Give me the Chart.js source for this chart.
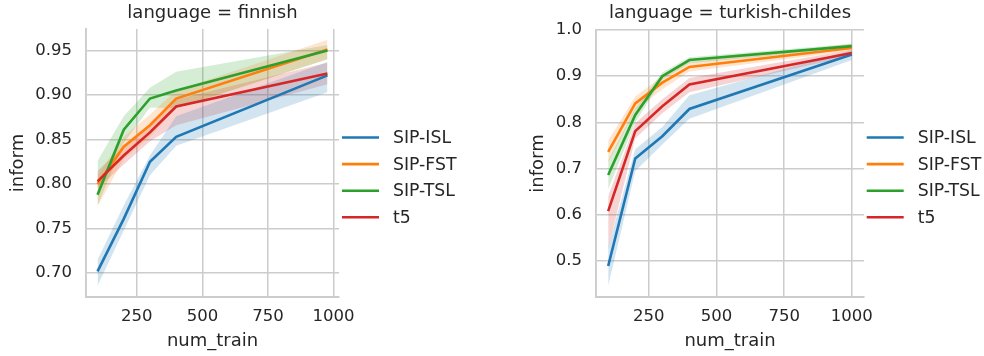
<!DOCTYPE html>
<html>
<head>
<meta charset="utf-8">
<script src="https://cdn.jsdelivr.net/npm/chart.js@4.4.1/dist/chart.umd.min.js"></script>
<style>
  body { margin: 0; background: #fff; }
  canvas { position: absolute; top: 0; }
</style>
</head>
<body>
<canvas id="finnishChart" width="492" height="356" style="left:0px"></canvas>
<canvas id="turkishChart" width="474" height="356" style="left:510px"></canvas>
<script>
// Series names and colours (tab10)
const seriesNames = ["SIP-ISL", "SIP-FST", "SIP-TSL", "t5"];
const seriesColors = ["#1f77b4", "#ff7f0e", "#2ca02c", "#d62728"];
const bandColors = ["rgba(31,119,180,0.2)", "rgba(255,127,14,0.2)", "rgba(44,160,44,0.2)", "rgba(214,39,40,0.2)"];

const xTicks = [250, 500, 750, 1000];
const finnishYTicks = [0.70, 0.75, 0.80, 0.85, 0.90, 0.95];
const turkishYTicks = [0.5, 0.6, 0.7, 0.8, 0.9, 1.0];

// finnish facet
const finnishNumTrain = [100, 200, 300, 400, 977];
const finnishIslMean = [0.702, 0.761, 0.825, 0.853, 0.922];
const finnishIslLow  = [0.686, 0.748, 0.810, 0.843, 0.903];
const finnishIslHigh = [0.715, 0.776, 0.832, 0.876, 0.937];
const finnishFstMean = [0.800, 0.842, 0.866, 0.896, 0.951];
const finnishFstLow  = [0.775, 0.828, 0.853, 0.885, 0.940];
const finnishFstHigh = [0.810, 0.853, 0.878, 0.905, 0.962];
const finnishTslMean = [0.788, 0.861, 0.896, 0.905, 0.950];
const finnishTslLow  = [0.776, 0.846, 0.886, 0.885, 0.940];
const finnishTslHigh = [0.826, 0.876, 0.908, 0.926, 0.956];
const finnishT5Mean  = [0.803, 0.832, 0.858, 0.887, 0.924];
const finnishT5Low   = [0.795, 0.822, 0.848, 0.866, 0.912];
const finnishT5High  = [0.815, 0.842, 0.868, 0.895, 0.936];

// turkish-childes facet
const turkishNumTrain = [100, 200, 300, 400, 1000];
const turkishIslMean = [0.489, 0.722, 0.770, 0.829, 0.947];
const turkishIslLow  = [0.446, 0.695, 0.752, 0.808, 0.935];
const turkishIslHigh = [0.530, 0.742, 0.790, 0.859, 0.956];
const turkishFstMean = [0.736, 0.841, 0.886, 0.920, 0.961];
const turkishFstLow  = [0.713, 0.826, 0.872, 0.910, 0.955];
const turkishFstHigh = [0.760, 0.856, 0.900, 0.930, 0.970];
const turkishTslMean = [0.686, 0.816, 0.900, 0.935, 0.965];
const turkishTslLow  = [0.655, 0.800, 0.893, 0.928, 0.960];
const turkishTslHigh = [0.718, 0.830, 0.908, 0.941, 0.970];
const turkishT5Mean  = [0.608, 0.781, 0.835, 0.882, 0.950];
const turkishT5Low   = [0.527, 0.765, 0.820, 0.865, 0.944];
const turkishT5High  = [0.640, 0.798, 0.850, 0.896, 0.957];

Chart.defaults.font.family = "'DejaVu Sans', sans-serif";
Chart.defaults.color = "#262626";

const pts = (xs, ys) => xs.map((x, i) => ({ x: x, y: ys[i] }));

// lines first (red on top), then the bands behind them
function buildDatasets(xs, means, lows, highs) {
  const sets = [];
  means.forEach((m, i) => {
    sets.push({
      label: seriesNames[i],
      data: pts(xs, m),
      borderColor: seriesColors[i],
      borderWidth: 2.6,
      pointRadius: 0,
      fill: false,
      order: 3 - i,
    });
  });
  means.forEach((m, i) => {
    const lowIndex = 5 + 2 * i;
    sets.push({
      label: seriesNames[i] + " hi",
      data: pts(xs, highs[i]),
      borderWidth: 0,
      borderColor: "rgba(0,0,0,0)",
      backgroundColor: bandColors[i],
      pointRadius: 0,
      fill: { target: lowIndex },
      order: 10 + i,
    });
    sets.push({
      label: seriesNames[i] + " lo",
      data: pts(xs, lows[i]),
      borderWidth: 0,
      borderColor: "rgba(0,0,0,0)",
      pointRadius: 0,
      fill: false,
      order: 10 + i,
    });
  });
  return sets;
}

// facet title and legend drawn at fixed spots
const facetDecor = {
  id: "facetDecor",
  afterDraw(chart, args, opts) {
    const ctx = chart.ctx;
    const area = chart.chartArea;
    ctx.save();
    ctx.fillStyle = "#262626";
    ctx.font = "18px 'DejaVu Sans'";
    ctx.textAlign = "center";
    ctx.textBaseline = "middle";
    ctx.fillText(opts.title, (area.left + area.right) / 2, 13);
    ctx.font = "17.3px 'DejaVu Sans'";
    ctx.textAlign = "left";
    seriesNames.forEach((name, i) => {
      const y = 137.5 + i * 26.6;
      ctx.strokeStyle = seriesColors[i];
      ctx.lineWidth = 2.6;
      ctx.beginPath();
      ctx.moveTo(opts.legendX, y);
      ctx.lineTo(opts.legendX + 37, y);
      ctx.stroke();
      ctx.fillText(name, opts.legendX + 51, y + 1);
    });
    ctx.restore();
  }
};

function makeChart(id, cfg) {
  return new Chart(document.getElementById(id), {
    type: "line",
    data: { datasets: buildDatasets(cfg.xs, cfg.means, cfg.lows, cfg.highs) },
    plugins: [facetDecor],
    options: {
      responsive: false,
      animation: false,
      layout: { padding: { top: cfg.top, right: cfg.right, bottom: 0, left: 0 } },
      plugins: {
        legend: { display: false },
        tooltip: { enabled: false },
        facetDecor: { title: cfg.title, legendX: cfg.legendX },
      },
      scales: {
        x: {
          type: "linear",
          min: cfg.xMin,
          max: cfg.xMax,
          afterBuildTicks: s => { s.ticks = xTicks.map(v => ({ value: v })); },
          afterFit: s => { s.height = 59; },
          ticks: { padding: 10, font: { size: 16.5 }, color: "#262626", callback: v => String(v) },
          grid: { color: "#cccccc", lineWidth: 1.5, drawTicks: false },
          border: { color: "#cccccc", width: 1.9 },
          title: { display: true, text: "num_train", font: { size: 18 }, color: "#262626", padding: { top: 0, bottom: 3.5 } },
        },
        y: {
          min: cfg.yMin,
          max: cfg.yMax,
          afterBuildTicks: s => { s.ticks = cfg.yTicks.map(v => ({ value: v })); },
          afterFit: s => { s.width = 86; },
          ticks: { padding: 14, font: { size: 16.5 }, color: "#262626", callback: v => v.toFixed(cfg.decimals) },
          grid: { color: "#cccccc", lineWidth: 1.5, drawTicks: false },
          border: { color: "#cccccc", width: 1.9 },
          title: { display: true, text: "inform", font: { size: 18 }, color: "#262626", padding: { top: cfg.yTitlePad, bottom: 0 } },
        }
      }
    }
  });
}

makeChart("finnishChart", {
  title: "language = finnish",
  xs: finnishNumTrain,
  means: [finnishIslMean, finnishFstMean, finnishTslMean, finnishT5Mean],
  lows: [finnishIslLow, finnishFstLow, finnishTslLow, finnishT5Low],
  highs: [finnishIslHigh, finnishFstHigh, finnishTslHigh, finnishT5High],
  xMin: 56, xMax: 1021,
  yMin: 0.6733, yMax: 0.974,
  yTicks: finnishYTicks, decimals: 2,
  top: 29, right: 153, legendX: 342, yTitlePad: 7.5,
});

makeChart("turkishChart", {
  title: "language = turkish-childes",
  xs: turkishNumTrain,
  means: [turkishIslMean, turkishFstMean, turkishTslMean, turkishT5Mean],
  lows: [turkishIslLow, turkishFstLow, turkishTslLow, turkishT5Low],
  highs: [turkishIslHigh, turkishFstHigh, turkishTslHigh, turkishT5High],
  xMin: 55, xMax: 1045,
  yMin: 0.422, yMax: 1.0,
  yTicks: turkishYTicks, decimals: 1,
  top: 30, right: 120, legendX: 356.7, yTitlePad: 17.2,
});
</script>
</body>
</html>
